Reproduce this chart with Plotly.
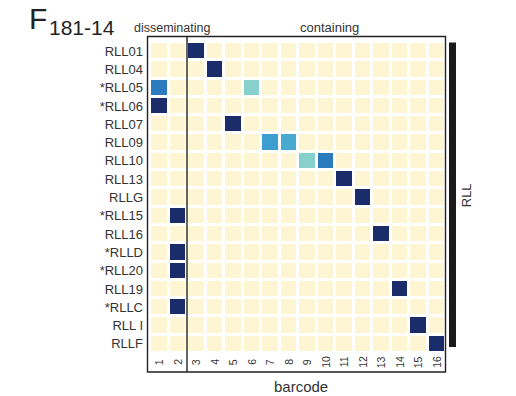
import plotly.graph_objects as go

# barcode fraction per sample (rows) and barcode (columns)
samples = ["RLL01", "RLL04", "*RLL05", "*RLL06", "RLL07", "RLL09", "RLL10", "RLL13",
           "RLLG", "*RLL15", "RLL16", "*RLLD", "*RLL20", "RLL19", "*RLLC", "RLL I", "RLLF"]
barcodes = list(range(1, 17))

# non-zero entries: sample -> {barcode: fraction}
fractions = {
    "RLL01": {3: 1.0},
    "RLL04": {4: 1.0},
    "*RLL05": {1: 0.65, 6: 0.35},
    "*RLL06": {1: 1.0},
    "RLL07": {5: 1.0},
    "RLL09": {7: 0.52, 8: 0.48},
    "RLL10": {9: 0.35, 10: 0.65},
    "RLL13": {11: 1.0},
    "RLLG": {12: 1.0},
    "*RLL15": {2: 1.0},
    "RLL16": {13: 1.0},
    "*RLLD": {2: 1.0},
    "*RLL20": {2: 1.0},
    "RLL19": {14: 1.0},
    "*RLLC": {2: 1.0},
    "RLL I": {15: 1.0},
    "RLLF": {16: 1.0},
}

z = [[fractions[s].get(b, 0.0) for b in barcodes] for s in samples]

W, H = 516, 396
ML, MR, MT, MB = 150, 70, 41.5, 43
pw, ph = W - ML - MR, H - MT - MB

fig = go.Figure(go.Heatmap(
    z=z, x=barcodes, y=samples,
    zmin=0, zmax=1,
    colorscale=[[0, "#FEF5D3"], [0.35, "#88D0CB"], [0.5, "#3FA4D2"],
                [0.65, "#2C7BBE"], [1, "#1A2D6A"]],
    xgap=3, ygap=3, showscale=False,
))

font = "Liberation Sans, Arial, sans-serif"
grey = "#333333"

shapes = [
    # outer frame (tick labels sit inside it)
    dict(type="rect", xref="paper", yref="paper",
         x0=(147.5 - ML) / pw, x1=(445.5 - ML) / pw,
         y0=-(372 - (H - MB)) / ph, y1=1 + (MT - 36) / ph,
         line=dict(color="#222222", width=1.4)),
    # divider between disseminating and containing barcodes
    dict(type="line", xref="x", yref="paper", x0=2.5, x1=2.5,
         y0=-(372 - (H - MB)) / ph, y1=1 + (MT - 36) / ph,
         line=dict(color="#222222", width=1.4)),
    # lobe bar
    dict(type="rect", xref="paper", yref="paper",
         x0=(449 - ML) / pw, x1=(456 - ML) / pw,
         y0=(H - MB - 347) / ph, y1=1 - (42 - MT) / ph,
         fillcolor="#1a1a1a", line=dict(width=0)),
]

# (text, x px, y px, font size, anchor)
labels = [
    ("F", 27, 18, 30, "left"),
    ("181-14", 47, 27, 21, "left"),
    ("disseminating", 132, 27, 12.5, "left"),
    ("containing", 329, 27, 13, "center"),
    ("barcode", 301, 387, 15, "center"),
    ("RLL", 466, 195, 13, "center"),
]
annotations = []
for text, px, py, size, anchor in labels:
    annotations.append(dict(
        text=text, showarrow=False, xref="paper", yref="paper",
        x=(px - ML) / pw, y=(H - MB - py) / ph,
        xanchor=anchor, yanchor="middle",
        textangle=-90 if text == "RLL" else 0,
        font=dict(family=font, size=size, color="#222222" if size > 20 else grey),
    ))

# barcode numbers drawn rotated inside the frame
for b in barcodes:
    annotations.append(dict(
        text=str(b), showarrow=False, xref="x", yref="paper",
        x=b, y=-(362 - (H - MB)) / ph, textangle=-90,
        xanchor="center", yanchor="middle",
        font=dict(family=font, size=10.5, color=grey),
    ))

fig.update_layout(
    width=W, height=H,
    margin=dict(l=ML, r=MR, t=MT, b=MB, pad=0),
    paper_bgcolor="white", plot_bgcolor="white",
    shapes=shapes, annotations=annotations,
    xaxis=dict(showticklabels=False, showgrid=False, zeroline=False,
               range=[0.5, 16.5], ticks=""),
    yaxis=dict(autorange="reversed", showgrid=False, zeroline=False,
               ticks="", ticklabelstandoff=6,
               tickfont=dict(family=font, size=13, color=grey)),
)

fig.write_html("out.html")
